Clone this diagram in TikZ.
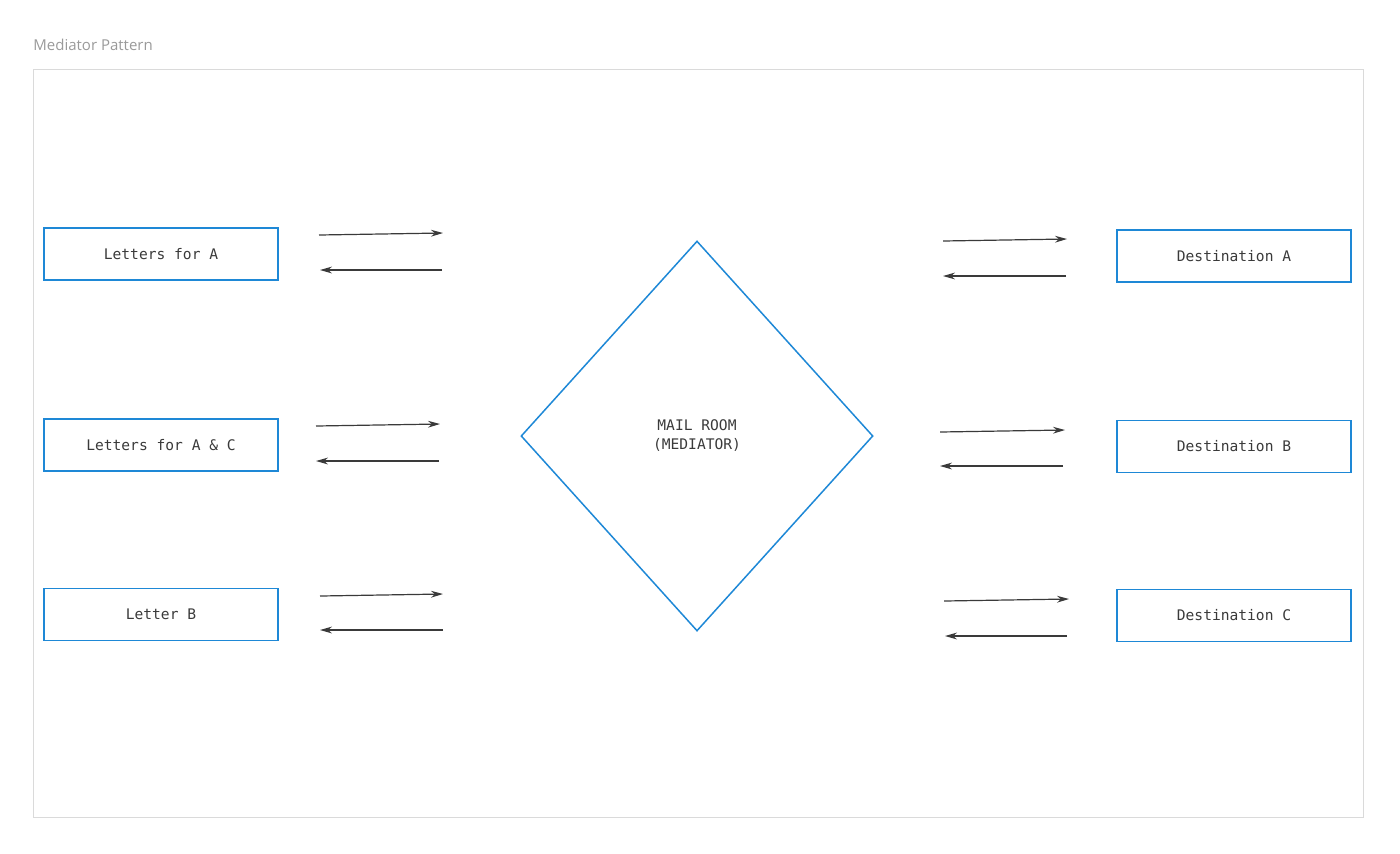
\documentclass[tikz,border=0pt]{standalone}
\usepackage{fontspec}
\setmonofont{DejaVu Sans Mono}
\newfontfamily\titlefont{Open Sans}
\usetikzlibrary{arrows.meta,shapes.geometric}
\definecolor{boxblue}{HTML}{1E88D6}
\definecolor{framegray}{HTML}{DADADA}
\definecolor{titlegray}{HTML}{9A9A9A}
\definecolor{arrowgray}{HTML}{3A3A3A}
\tikzset{
  box/.style={shape=rectangle,draw=boxblue,line width=0.75pt,minimum width=117pt,
    minimum height=26pt,inner sep=0pt,font=\ttfamily\fontsize{7.3}{9}\selectfont,text=arrowgray},
  msg/.style={->,draw=arrowgray,line width=0.6pt}
}
\begin{document}
\begin{tikzpicture}[x=0.5pt,y=-0.5pt,>={Stealth[length=6pt,width=3.4pt]}]
  \useasboundingbox (0,0) rectangle (1400,853);
  \draw[framegray,line width=0.5pt] (33,69) rectangle (1363,817);
  \node (title) [anchor=west,text=titlegray,font=\titlefont\fontsize{7.5}{9}\selectfont,inner sep=0pt] at (33,45) {Mediator Pattern};

  % senders
  \node (lettersA) [box] at (161,254) {Letters for A};
  \node (lettersAC) [box] at (161,445) {Letters for A \& C};
  \node (letterB) [box] at (161,614.5) {Letter B};

  % mediator
  \node (mailroom) [shape=diamond,draw=boxblue,line width=0.75pt,minimum width=176pt,
    minimum height=195pt,inner sep=0pt,align=center,text=arrowgray,
    font=\ttfamily\fontsize{7.3}{9.5}\selectfont] at (697,436) {MAIL ROOM\\(MEDIATOR)};

  % receivers
  \node (destA) [box] at (1234,256) {Destination A};
  \node (destB) [box] at (1234,446.5) {Destination B};
  \node (destC) [box] at (1234,615.5) {Destination C};

  % arrow ends
  \coordinate (a1) at (319,235); \coordinate (a2) at (443,233);
  \coordinate (a3) at (442,270); \coordinate (a4) at (320,270);
  \coordinate (b1) at (316,426); \coordinate (b2) at (440,424);
  \coordinate (b3) at (439,461); \coordinate (b4) at (316,461);
  \coordinate (c1) at (320,596); \coordinate (c2) at (443,594);
  \coordinate (c3) at (443,630); \coordinate (c4) at (320,630);
  \coordinate (d1) at (943,241); \coordinate (d2) at (1067,239);
  \coordinate (d3) at (1066,276); \coordinate (d4) at (943,276);
  \coordinate (e1) at (940,432); \coordinate (e2) at (1065,430);
  \coordinate (e3) at (1063,466); \coordinate (e4) at (940,466);
  \coordinate (f1) at (944,601); \coordinate (f2) at (1069,599);
  \coordinate (f3) at (1067,636); \coordinate (f4) at (945,636);

  \draw[msg] (a1) -- (a2); \draw[msg] (a3) -- (a4);
  \draw[msg] (b1) -- (b2); \draw[msg] (b3) -- (b4);
  \draw[msg] (c1) -- (c2); \draw[msg] (c3) -- (c4);
  \draw[msg] (d1) -- (d2); \draw[msg] (d3) -- (d4);
  \draw[msg] (e1) -- (e2); \draw[msg] (e3) -- (e4);
  \draw[msg] (f1) -- (f2); \draw[msg] (f3) -- (f4);
\end{tikzpicture}
\end{document}
